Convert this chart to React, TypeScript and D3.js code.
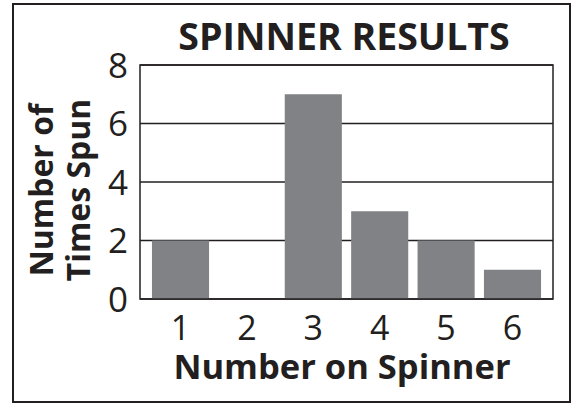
import React from 'react';
import * as d3 from 'd3';

const categories = ['1', '2', '3', '4', '5', '6'];
const counts = [2, 0, 7, 3, 2, 1];
const yTicks = [0, 2, 4, 6, 8];

const W = 577;
const H = 405;
const ink = '#231f20';
const font = '"Open Sans", "DejaVu Sans", sans-serif';

const App = () => {
    const plot = { left: 140, right: 553, top: 65, bottom: 299 };

    const x = d3.scaleBand<string>()
        .domain(categories)
        .range([plot.left, plot.right])
        .paddingInner(0.14)
        .paddingOuter(0.18);

    const y = d3.scaleLinear().domain([0, 8]).range([plot.bottom, plot.top]);

    return (
        <svg width={W} height={H} style={{ position: 'absolute', left: 0, top: 0 }}>
            <rect x={0} y={0} width={W} height={H} fill="white" />
            {/* outer frame */}
            <rect x={13} y={4} width={557} height={398} fill="none" stroke={ink} strokeWidth={2} />

            <text x={344} y={50} textAnchor="middle" fontFamily={font} fontWeight="bold" fontSize={37.5} fill={ink}>
                SPINNER RESULTS
            </text>

            {/* grid lines */}
            {yTicks.map(t => (
                <line key={t} x1={plot.left} x2={plot.right} y1={y(t)} y2={y(t)} stroke={ink} strokeWidth={1.5} />
            ))}

            {/* bars */}
            {counts.map((v, i) => (
                <rect
                    key={categories[i]}
                    x={x(categories[i])}
                    y={y(v)}
                    width={x.bandwidth()}
                    height={y(0) - y(v)}
                    fill="#808285"
                />
            ))}

            {/* plot frame */}
            <rect
                x={plot.left}
                y={plot.top}
                width={plot.right - plot.left}
                height={plot.bottom - plot.top}
                fill="none"
                stroke={ink}
                strokeWidth={1.5}
            />

            {/* y tick labels */}
            {yTicks.map(t => (
                <text key={t} x={128} y={y(t)} dy="0.36em" textAnchor="end" fontFamily={font} fontSize={35} fill={ink}>
                    {t}
                </text>
            ))}

            {/* x tick labels */}
            {categories.map(c => (
                <text key={c} x={(x(c) ?? 0) + x.bandwidth() / 2} y={340} textAnchor="middle" fontFamily={font} fontSize={34} fill={ink}>
                    {c}
                </text>
            ))}

            <text x={342} y={379} textAnchor="middle" fontFamily={font} fontWeight="bold" fontSize={34.5} fill={ink}>
                Number on Spinner
            </text>

            <g transform="translate(53,190) rotate(-90)">
                <text x={0} y={0} textAnchor="middle" fontFamily={font} fontWeight="bold" fontSize={32} fill={ink}>
                    Number of
                </text>
            </g>
            <g transform="translate(90,190) rotate(-90)">
                <text x={0} y={0} textAnchor="middle" fontFamily={font} fontWeight="bold" fontSize={32} fill={ink}>
                    Times Spun
                </text>
            </g>
        </svg>
    );
};

export default App;
